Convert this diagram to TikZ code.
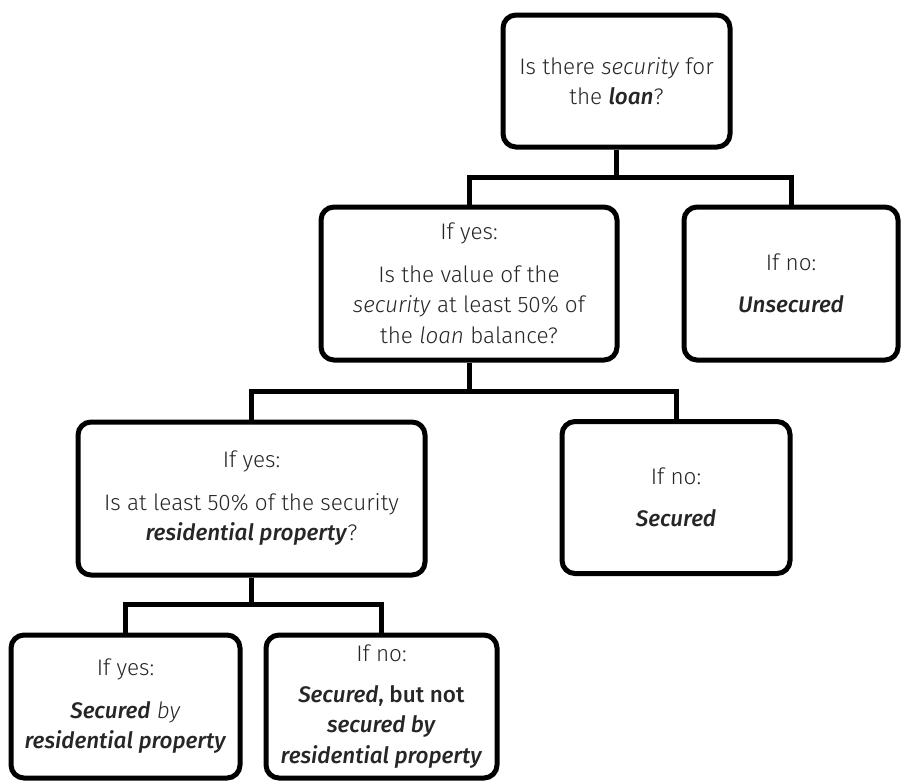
\documentclass[tikz,border=0pt]{standalone}
\usepackage{fontspec}
\setmainfont{Fira Sans Light}[ItalicFont=Fira Sans Light Italic, BoldFont=Fira Sans Medium, BoldItalicFont=Fira Sans Medium Italic]
\newcommand{\bi}[1]{\textbf{\textit{#1}}}
\tikzset{
  boite/.style={draw, line width=5pt, rounded corners=13pt, align=center, inner sep=0pt,
    font=\fontsize{22.5}{30.5}\selectfont, text=black!85},
  lien/.style={line width=5pt}
}
\begin{document}
\begin{tikzpicture}[x=1pt,y=-1pt]
	\useasboundingbox (0,0) rectangle (901,782);
	% les boites
	\node[boite, minimum width=227pt, minimum height=132pt] (q1) at (616.5,81) {Is there \textit{security} for\\ the \bi{loan}?};
	\node[boite, minimum width=296pt, minimum height=153pt] (q2) at (469,283.5) {If yes:\\[12pt] Is the value of the\\ \textit{security} at least 50\% of\\ the \textit{loan} balance?};
	\node[boite, minimum width=214pt, minimum height=153pt] (unsec) at (791,283.5) {If no:\\[12pt] \bi{Unsecured}};
	\node[boite, minimum width=347pt, minimum height=153pt] (q3) at (251.5,498.5) {If yes:\\[12pt] Is at least 50\% of the security\\ \bi{residential property}?};
	\node[boite, minimum width=228pt, minimum height=152pt] (sec) at (676,497.5) {If no:\\[12pt] \bi{Secured}};
	\node[boite, minimum width=229pt, minimum height=143pt] (resid) at (125.5,706.5) {If yes:\\[12pt] \bi{Secured} \textit{by}\\ \bi{residential property}};
	\node[boite, minimum width=231pt, minimum height=143pt] (notres) at (381.5,706.5) {If no:\\[10pt] \bi{Secured}\textbf{, but not}\\ \bi{secured by}\\ \bi{residential property}};
	% les barres
	\coordinate (b1) at (616.5,177);
	\coordinate (b2) at (469,391);
	\coordinate (b3) at (251.5,604);
	% les liens
	\draw[lien] (q1.south) -- (b1);
	\draw[lien] (q2.north) -- (q2.north |- b1) -- (unsec.north |- b1) -- (unsec.north);
	\draw[lien] (q2.south) -- (b2);
	\draw[lien] (q3.north) -- (q3.north |- b2) -- (sec.north |- b2) -- (sec.north);
	\draw[lien] (q3.south) -- (b3);
	\draw[lien] (resid.north) -- (resid.north |- b3) -- (notres.north |- b3) -- (notres.north);
\end{tikzpicture}
\end{document}
